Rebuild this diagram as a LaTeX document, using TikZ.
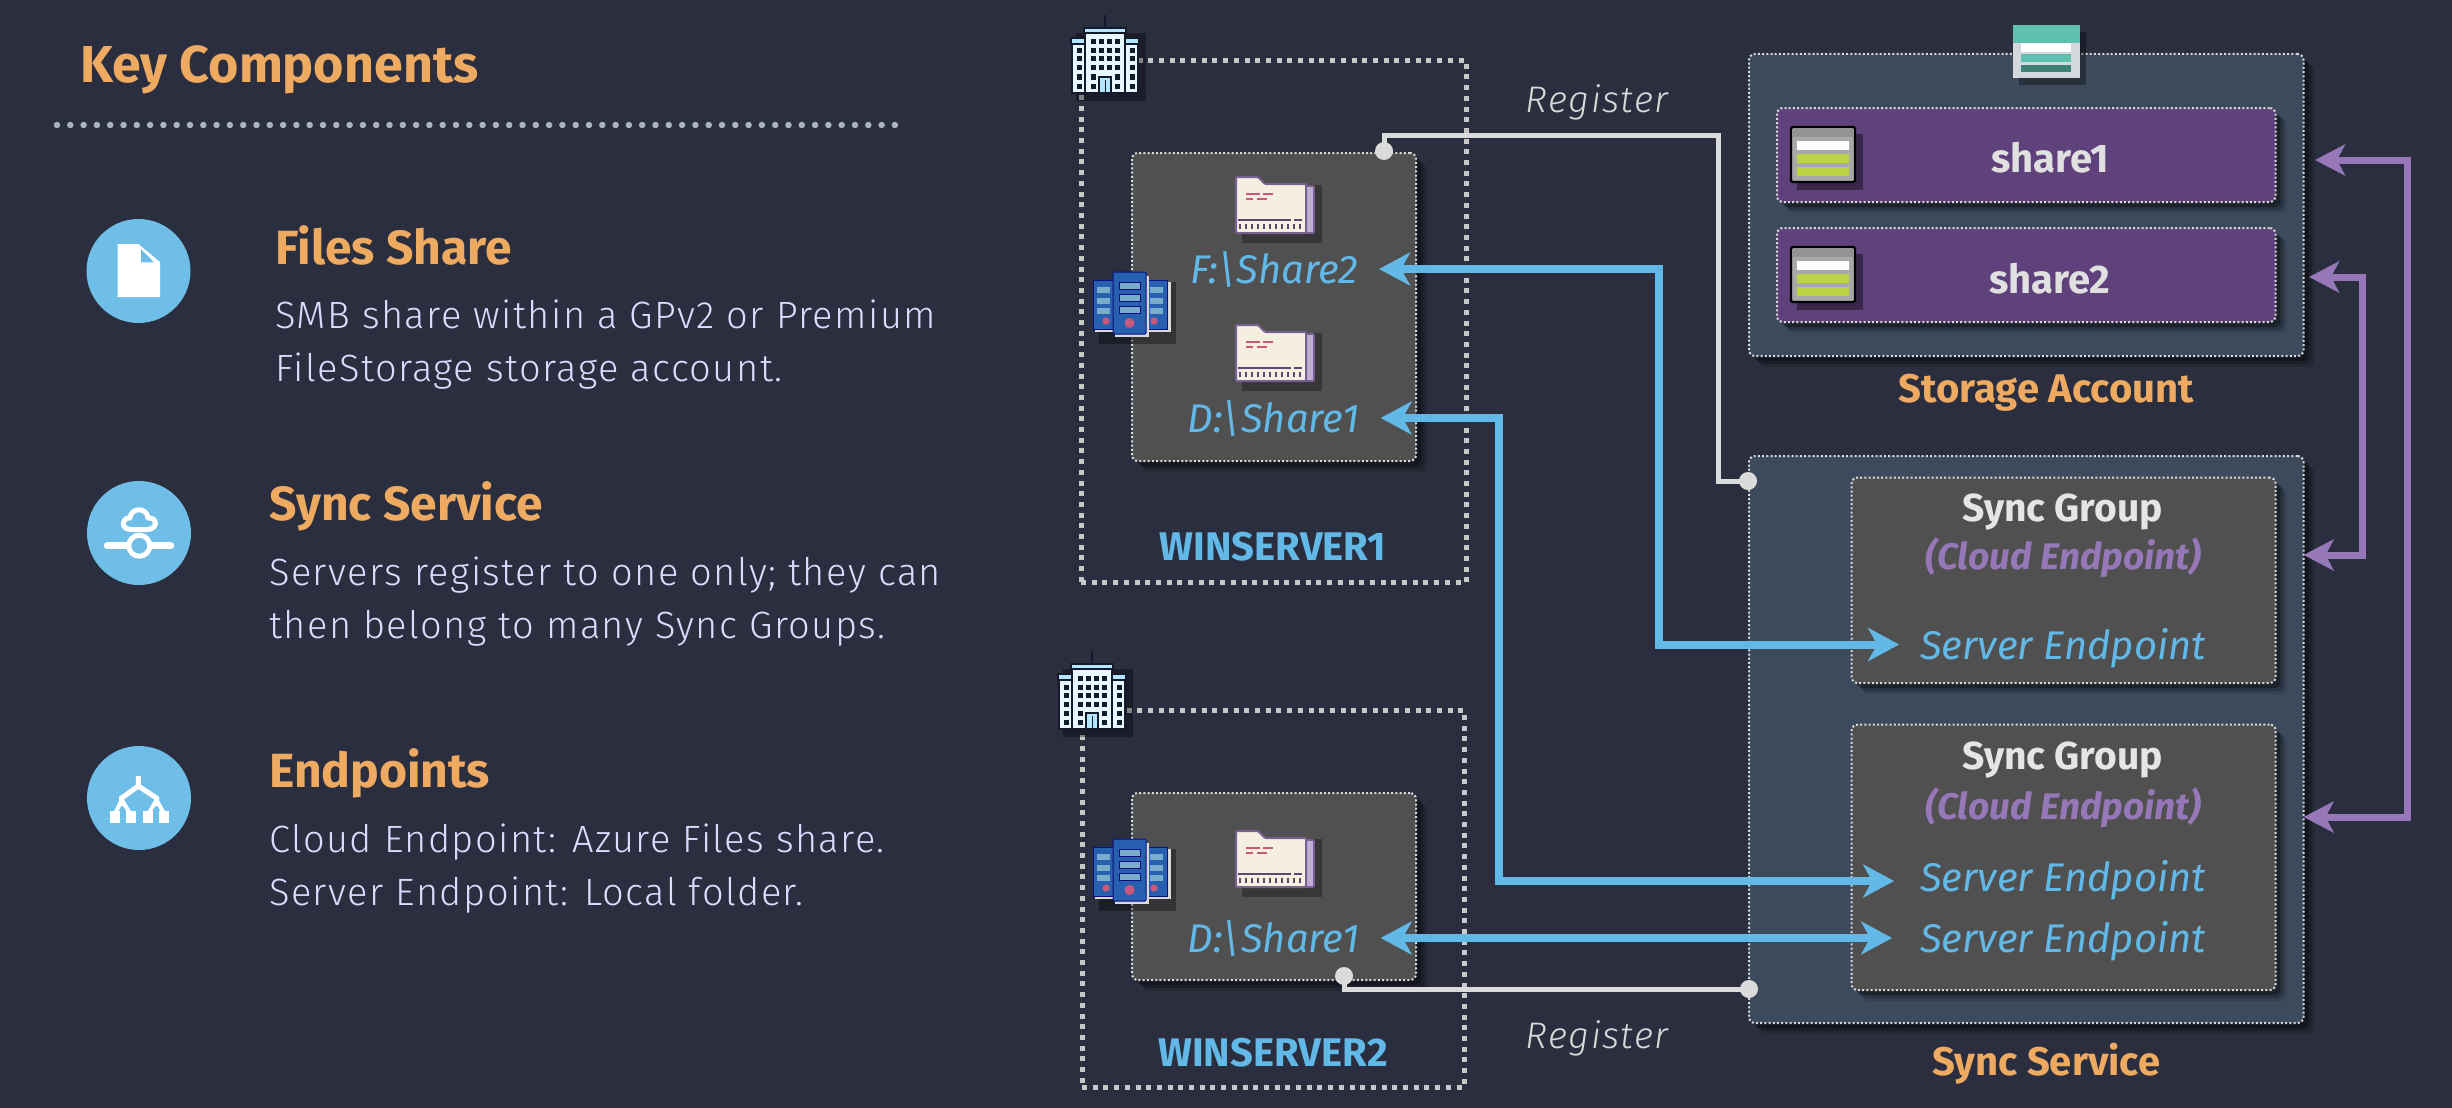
\documentclass[tikz,border=0pt]{standalone}
\usepackage{fontspec}
\setmainfont{Fira Sans}
\newfontfamily\lightfont[LetterSpace=3.8]{Fira Sans Light}
\usetikzlibrary{positioning}
\usetikzlibrary{shadows}
\usetikzlibrary{arrows.meta}
\definecolor{pagebg}{RGB}{42,46,62}
\definecolor{orangetxt}{RGB}{238,170,96}
\definecolor{bluelink}{RGB}{98,184,230}
\definecolor{purplelink}{RGB}{150,120,184}
\definecolor{greybox}{RGB}{80,80,80}
\definecolor{slatebox}{RGB}{61,74,92}
\definecolor{purplebox}{RGB}{95,65,124}
\definecolor{dotgrey}{RGB}{200,200,200}
\definecolor{navyline}{RGB}{18,26,44}
\definecolor{folderfill}{RGB}{246,239,224}
\definecolor{serverblue}{RGB}{40,96,176}
\definecolor{serverbar}{RGB}{122,172,204}
\definecolor{serverdot}{RGB}{200,88,124}
\definecolor{limebar}{RGB}{190,212,70}
\definecolor{tealbar}{RGB}{95,192,176}
\definecolor{tealdark}{RGB}{60,130,120}
\tikzset{
	softshadow/.style={
		general shadow={draw=none,fill=black,opacity=.13,shadow xshift=11pt,shadow yshift=-11pt},
		general shadow={draw=none,fill=black,opacity=.2,shadow xshift=8pt,shadow yshift=-8pt},
		general shadow={draw=none,fill=black,opacity=.3,shadow xshift=5pt,shadow yshift=-5pt}
	},
	panel/.style={
		softshadow, rectangle, rounded corners=6pt, draw=white!85!black, line width=2pt,
		dash pattern=on 2pt off 2.2pt, outer sep=0pt, inner sep=0pt, anchor=north west
	},
	sitebox/.style={
		rectangle, draw=dotgrey, line width=5pt, dash pattern=on 5pt off 5.7pt,
		outer sep=0pt, inner sep=0pt, anchor=north west
	},
	iconcircle/.style={circle, fill=bluelink!92!white, minimum size=104pt, inner sep=0pt},
	headtxt/.style={anchor=base west, text=orangetxt, inner sep=0pt, font=\fontsize{48}{50}\selectfont\bfseries},
	bodytxt/.style={anchor=north west, align=left, text=white!86!blue, inner sep=0pt, font=\lightfont\fontsize{38}{53}\selectfont},
	capttxt/.style={text=orangetxt, inner sep=0pt, font=\fontsize{40}{44}\selectfont\bfseries},
	sitetxt/.style={anchor=base, text=bluelink, inner sep=0pt, font=\fontsize{40}{44}\selectfont\bfseries},
	pathtxt/.style={text=bluelink, inner xsep=21pt, inner ysep=0pt, text height=29pt, text depth=0pt, font=\fontsize{40}{44}\selectfont\itshape},
	sharetxt/.style={anchor=base, text=white!88!black, inner sep=0pt, font=\fontsize{40}{44}\selectfont\bfseries},
	grouptxt/.style={anchor=base, text=white!90!black, inner sep=0pt, font=\fontsize{39}{44}\selectfont\bfseries},
	cloudtxt/.style={anchor=base, text=purplelink, inner sep=0pt, font=\fontsize{37}{44}\selectfont\bfseries\itshape},
	regtxt/.style={anchor=base, text=white!85!black, inner sep=0pt, font=\lightfont\fontsize{37}{40}\selectfont\itshape},
	regdot/.style={circle, fill=white!86!black, minimum size=18pt, inner sep=0pt},
	reglink/.style={draw=white!86!black, line width=5pt},
	syncarrow/.style={draw=bluelink, line width=8pt, {Stealth[length=31pt,width=33pt,inset=9pt]}-{Stealth[length=31pt,width=33pt,inset=9pt]}},
	cloudarrow/.style={draw=purplelink, line width=7pt, {Stealth[length=30pt,width=31pt,inset=8pt]}-{Stealth[length=30pt,width=31pt,inset=8pt]}}
}
% icons, drawn from their top left corner
\newcommand\buildingicon[2]{
	\begin{scope}[shift={(#1,#2)}]
		\fill[black,opacity=.35] (5,6) rectangle (75,74);
		\draw[navyline,line width=1.5pt] (34,-12) -- (34,1);
		\draw[navyline,line width=1.2pt,fill=white!90!cyan] (1,15) rectangle (67,66);
		\draw[navyline,line width=1.2pt,fill=white!90!cyan] (14,4) rectangle (54,66);
		\draw[navyline,line width=1.2pt,fill=cyan!30!white] (0,11) rectangle (14,17);
		\draw[navyline,line width=1.2pt,fill=cyan!30!white] (54,11) rectangle (68,17);
		\draw[navyline,line width=1.2pt,fill=cyan!30!white] (13,1) rectangle (55,6);
		\foreach \wx in {22,30,38,46}
			\foreach \wy in {15,24,32,41}
				\fill[navyline] (\wx-2.5,\wy-2.5) rectangle ++(5,5);
		\foreach \wx in {22,46}
			\foreach \wy in {50,59}
				\fill[navyline] (\wx-2.5,\wy-2.5) rectangle ++(5,5);
		\foreach \wx in {8,61}
			\foreach \wy in {24,32,41,50,59}
				\fill[navyline] (\wx-2.5,\wy-2.5) rectangle ++(5,5);
		\draw[navyline,line width=1.2pt,fill=cyan!30!white] (28,50) rectangle (40,66);
		\draw[navyline,line width=1pt] (34,53) -- (34,66);
	\end{scope}
}
\newcommand\foldericon[2]{
	\begin{scope}[shift={(#1,#2)}]
		\fill[black,opacity=.3] (6,8) rectangle (86,66);
		\draw[purplelink!80!black,line width=1.6pt,fill=purplelink!60!white,rounded corners=1pt] (66,9) rectangle (78,56);
		\draw[purplelink!80!black,line width=2pt,fill=folderfill,rounded corners=1pt] (0,0) -- (22,0) -- (29,7) -- (70,7) -- (70,56) -- (0,56) -- cycle;
		\draw[purplelink!60!black,line width=1.4pt] (2,43) -- (55,43) (58,43) -- (66,43);
		\foreach \tx in {4,10,...,64}
			\draw[purplelink!60!black,line width=1.4pt] (\tx,47) -- (\tx,52);
		\draw[serverdot,line width=1.5pt] (10,17) -- (24,17) (27,17) -- (37,17) (10,22) -- (17,22) (21,22) -- (31,22);
	\end{scope}
}
\newcommand\servericon[2]{
	\begin{scope}[shift={(#1,#2)}]
		\fill[black,opacity=.35] (6,10) rectangle (83,72);
		\foreach \sx in {0,53}{
			\fill[white!85!black] (\sx+2,10) rectangle ++(23,50);
			\draw[blue!40!navyline,line width=1pt,fill=serverblue] (\sx,8) rectangle ++(21,49);
			\foreach \sy in {15,26,36}
				\fill[serverbar] (\sx+4,\sy) rectangle ++(13,6);
		}
		\fill[serverdot] (13,49) circle (3.6);
		\fill[serverdot] (61,49) circle (3.6);
		\fill[white!85!black] (22,4) rectangle ++(34,61);
		\draw[blue!40!navyline,line width=1pt,fill=serverblue,rounded corners=1pt] (20,0) rectangle ++(33,62);
		\foreach \sy in {10,22,34}
			\draw[blue!40!navyline,line width=.8pt,fill=serverbar] (26,\sy) rectangle ++(21,7);
		\fill[serverdot] (36.5,51) circle (5);
	\end{scope}
}
\newcommand\tableicon[2]{
	\begin{scope}[shift={(#1,#2)}]
		\fill[black,opacity=.4] (6,7) rectangle (72,63);
		\draw[black,line width=2.4pt,rounded corners=1.5pt,fill=white!66!black] (0,0) rectangle (64,55);
		\fill[white!58!black] (1.5,1.5) rectangle (62.5,10);
		\fill[white] (6,14) rectangle (58,23);
		\fill[limebar] (6,27) rectangle (58,36);
		\fill[limebar] (6,40) rectangle (58,49);
	\end{scope}
}
\begin{document}
\begin{tikzpicture}[x=1pt,y=-1pt]
	\useasboundingbox (0,0) rectangle (2452,1108);
	\fill[pagebg] (0,0) rectangle (2452,1108);

	% left column
	\node (keytitle) [headtxt, font=\fontsize{52}{56}\selectfont\bfseries] at (80,82) {Key Components};
	\coordinate (ruleleft) at (57,125);
	\coordinate (ruleright) at (899,125);
	\draw[cyan!15!white!70!black,line width=6.5pt,line cap=round,dash pattern=on 0pt off 13.3pt] (ruleleft) -- (ruleright);

	\node (filescircle) [iconcircle] at (138.5,271) {};
	\node (synccircle) [iconcircle] at (139,533) {};
	\node (endpcircle) [iconcircle] at (139,798) {};

	\fill[white] (117.7,244) -- (138.3,244) -- (160,262) -- (160,297) -- (117.7,297) -- cycle;
	\fill[bluelink!92!white] (141,249) -- (141,262.3) -- (154,262.3) -- cycle;

	\draw[white,line width=6.5pt,line cap=round] (107,545.7) -- (171,545.7);
	\draw[white,line width=5pt,fill=bluelink!92!white] (139.3,545.7) circle (10.5);
	\draw[white,line width=5pt,line join=round] (131,529.5) .. controls (120,529.5) and (122,517) .. (130,518) .. controls (131,507) and (147,507) .. (148,518) .. controls (158,517) and (158,529.5) .. (147,529.5) -- cycle;

	\draw[white,line width=5pt] (138.3,776) -- (138.3,786) -- (121.7,798) -- (121.7,806) (138.3,786) -- (156.5,798) -- (156.5,806);
	\draw[white,line width=4pt] (121.7,800) -- (115,814) (121.7,800) -- (130.5,814) (156.5,800) -- (148.3,814) (156.5,800) -- (164.3,814);
	\foreach \bx in {115,130.5,148.3,164.3}
		\fill[white] (\bx-5,811) rectangle ++(10,12);

	\node (filestitle) [headtxt] at (275.5,264) {Files Share};
	\node (filesbody) [bodytxt] at (275,300) {SMB share within a GPv2 or Premium\\FileStorage storage account.};
	\node (synctitle) [headtxt] at (269,520) {Sync Service};
	\node (syncbody) [bodytxt] at (269,557) {Servers register to one only; they can\\then belong to many Sync Groups.};
	\node (endptitle) [headtxt] at (269,787) {Endpoints};
	\node (endpbody) [bodytxt] at (269,824) {Cloud Endpoint: Azure Files share.\\Server Endpoint: Local folder.};

	% on premises
	\node (siteone) [sitebox, minimum width=385pt, minimum height=522pt] at (1081,60.5) {};
	\node (sitetwo) [sitebox, minimum width=382pt, minimum height=377pt] at (1082,710) {};
	\node (serverone) [panel, fill=greybox, minimum width=284pt, minimum height=308pt] at (1132,153) {};
	\node (servertwo) [panel, fill=greybox, minimum width=284pt, minimum height=187pt] at (1132,793) {};
	\node (siteonelabel) [sitetxt] at (1273,560) {WINSERVER1};
	\node (sitetwolabel) [sitetxt] at (1273,1066) {WINSERVER2};

	% azure side
	\node (storageacct) [panel, fill=slatebox, minimum width=554.5pt, minimum height=302pt] at (1749,54) {};
	\node (syncsvc) [panel, fill=slatebox, minimum width=554.5pt, minimum height=567pt] at (1749,456) {};
	\node (shareonebox) [panel, fill=purplebox, minimum width=498.5pt, minimum height=94pt] at (1777,108) {};
	\node (sharetwobox) [panel, fill=purplebox, minimum width=498.5pt, minimum height=94pt] at (1777,228) {};
	\node (groupone) [panel, fill=greybox, minimum width=424pt, minimum height=205.5pt] at (1851.6,477.5) {};
	\node (grouptwo) [panel, fill=greybox, minimum width=424pt, minimum height=265.5pt] at (1851.6,724.6) {};
	\node (storagelabel) [capttxt, below=18pt of storageacct, xshift=20pt] {Storage Account};
	\node (synclabel) [capttxt, below=20pt of syncsvc, xshift=20pt] {Sync Service};

	\node (shareonetxt) [sharetxt] at (2050,172.7) {share1};
	\node (sharetwotxt) [sharetxt] at (2050,293) {share2};
	\node (syncgroupone) [grouptxt] at (2062.5,521) {Sync Group};
	\node (cloudone) [cloudtxt] at (2063.5,569) {(Cloud Endpoint)};
	\node (syncgrouptwo) [grouptxt] at (2062.5,769) {Sync Group};
	\node (cloudtwo) [cloudtxt] at (2063.5,819) {(Cloud Endpoint)};

	% icons
	\foldericon{1236}{177}
	\foldericon{1236}{325}
	\foldericon{1236}{831}
	\buildingicon{1071}{27}
	\buildingicon{1058}{663}
	\servericon{1093}{272}
	\servericon{1093}{839}
	\tableicon{1791}{127}
	\tableicon{1791}{247}
	\begin{scope}[shift={(2013,25)}]
		\fill[black,opacity=.35] (6,7) rectangle (73,60);
		\fill[white!78!slatebox] (0,0) rectangle (66.5,53);
		\fill[tealbar] (0,0) rectangle (66.5,18);
		\fill[white] (8,18) rectangle (58,27);
		\fill[tealbar] (8,29) rectangle (58,37);
		\fill[tealdark] (8,40) rectangle (58,47);
	\end{scope}

	% drive and endpoint labels
	\node (drivef) [pathtxt] at (1274,269) {F:\textbackslash Share2};
	\node (drived) [pathtxt] at (1273.5,418) {D:\textbackslash Share1};
	\node (drivedtwo) [pathtxt] at (1273.5,938) {D:\textbackslash Share1};
	\node (endpa) [pathtxt] at (2063,644.5) {Server Endpoint};
	\node (endpb) [pathtxt] at (2063,877) {Server Endpoint};
	\node (endpc) [pathtxt] at (2063,938) {Server Endpoint};

	\node (regtop) [regtxt] at (1597,112) {Register};
	\node (regbottom) [regtxt] at (1597,1048) {Register};

	% connectors
	\node (regdota) [regdot] at (1384,151) {};
	\node (regdotb) [regdot] at (1748,481) {};
	\node (regdotc) [regdot] at (1344,976) {};
	\node (regdotd) [regdot] at (1749,989) {};
	\coordinate (regbend) at (1718,135.5);
	\draw[reglink] (regdota.center) |- (regbend) |- (regdotb.center);
	\draw[reglink] (regdotc.center) |- (regdotd.center);

	\coordinate (bendf) at (1659,400);
	\coordinate (bendd) at (1499,600);
	\draw[syncarrow] (drivef.east) -| (bendf) |- (endpa.west);
	\draw[syncarrow] (drived.east) -| (bendd) |- ([xshift=-5pt,yshift=-4pt]endpb.west);
	\draw[syncarrow] (drivedtwo.east) -- ([xshift=-7pt]endpc.west);

	\coordinate (busfar) at (2407,500);
	\coordinate (busnear) at (2362,400);
	\coordinate (portone) at (2303.6,817);
	\coordinate (porttwo) at (2303.6,555);
	\draw[cloudarrow] ([xshift=39.5pt,yshift=-5pt]shareonebox.east) -| (busfar) |- (portone);
	\draw[cloudarrow] ([xshift=33.5pt,yshift=-2pt]sharetwobox.east) -| (busnear) |- (porttwo);
\end{tikzpicture}
\end{document}
